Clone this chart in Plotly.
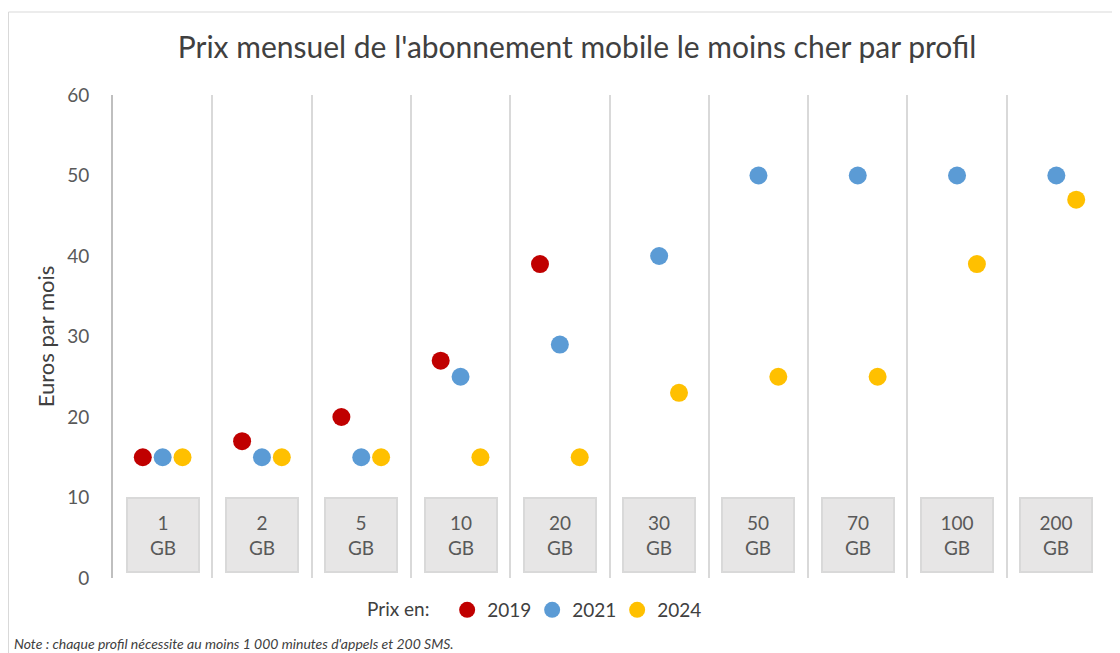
import plotly.graph_objects as go

categories = ["1 GB", "2 GB", "5 GB", "10 GB", "20 GB", "30 GB", "50 GB", "70 GB", "100 GB", "200 GB"]
box_labels = ["1<br>GB", "2<br>GB", "5<br>GB", "10<br>GB", "20<br>GB", "30<br>GB", "50<br>GB", "70<br>GB", "100<br>GB", "200<br>GB"]
prix_2019 = [15, 17, 20, 27, 39, None, None, None, None, None]
prix_2021 = [15, 15, 15, 25, 29, 40, 50, 50, 50, 50]
prix_2024 = [15, 15, 15, 15, 15, 23, 25, 25, 39, 47]
y_ticks = [0, 10, 20, 30, 40, 50, 60]

FONT = "Lato"
W, H = 1112, 645
L, R, T, B = 105, 14, 87, 75
PW, PH = W - L - R, H - T - B

fig = go.Figure()
for name, vals, col in [("2019", prix_2019, "#c00000"), ("2021", prix_2021, "#5b9bd5"), ("2024", prix_2024, "#ffc000")]:
    fig.add_trace(go.Scatter(x=categories, y=vals, name=name, mode="markers",
                             marker=dict(size=18, color=col, line=dict(width=0))))

for cat, lab in zip(categories, box_labels):
    fig.add_annotation(x=cat, y=5.3, xref="x", yref="y", text=lab, showarrow=False,
                       font=dict(family=FONT, size=19, color="#595959"),
                       bgcolor="#e7e6e6", bordercolor="#d9d9d9", borderwidth=2, borderpad=1,
                       width=68, height=70, align="center", valign="middle")

fig.add_annotation(x=(4 - L) / PW, y=(PH - (635 - T)) / PH, xref="paper", yref="paper",
                   xanchor="left", yanchor="middle",
                   text="<i>Note : chaque profil nécessite au moins 1 000 minutes d'appels et 200 SMS.</i>",
                   showarrow=False, font=dict(family=FONT, size=14, color="#404040"))

fig.add_shape(type="rect", xref="paper", yref="paper",
              x0=(0.5 - L) / PW, x1=(1110 - L) / PW, y0=-0.3, y1=(PH + T - 4) / PH,
              line=dict(color="#d9d9d9", width=1), fillcolor="rgba(0,0,0,0)", layer="below")

fig.update_layout(
    width=W, height=H,
    margin=dict(l=L, r=R, t=T, b=B),
    paper_bgcolor="white", plot_bgcolor="white",
    font=dict(family=FONT, color="#595959"),
    title=dict(text="Prix mensuel de l'abonnement mobile le moins cher par profil",
               x=(569 - L) / PW, xref="paper", xanchor="center", y=1 - 39 / H, yanchor="middle",
               font=dict(family=FONT, size=30, color="#404040")),
    scattermode="group", scattergap=0.4,
    showlegend=True,
    legend=dict(orientation="h", x=(357 - L) / PW, xanchor="left", y=(PH - (602 - T)) / PH, yanchor="middle",
                title=dict(text="Prix en:  ", font=dict(family=FONT, size=19, color="#404040"), side="left"),
                font=dict(family=FONT, size=19, color="#404040"), itemwidth=30, tracegroupgap=0,
                entrywidth=40, entrywidthmode="pixels"),
    xaxis=dict(type="category", range=[-0.5, 9.5], tickson="boundaries", showgrid=True,
               gridcolor="#d9d9d9", gridwidth=1.5, showticklabels=False, ticks="", showline=False, zeroline=False),
    yaxis=dict(range=[0, 60], tickvals=y_ticks, showgrid=False, zeroline=False, showline=True,
               linecolor="#bfbfbf", linewidth=2, ticks="", ticklabelstandoff=18,
               tickfont=dict(family=FONT, size=19, color="#595959"),
               title=dict(text="Euros par mois", font=dict(family=FONT, size=22, color="#404040"), standoff=6)),
)

fig.write_html("out.html")
